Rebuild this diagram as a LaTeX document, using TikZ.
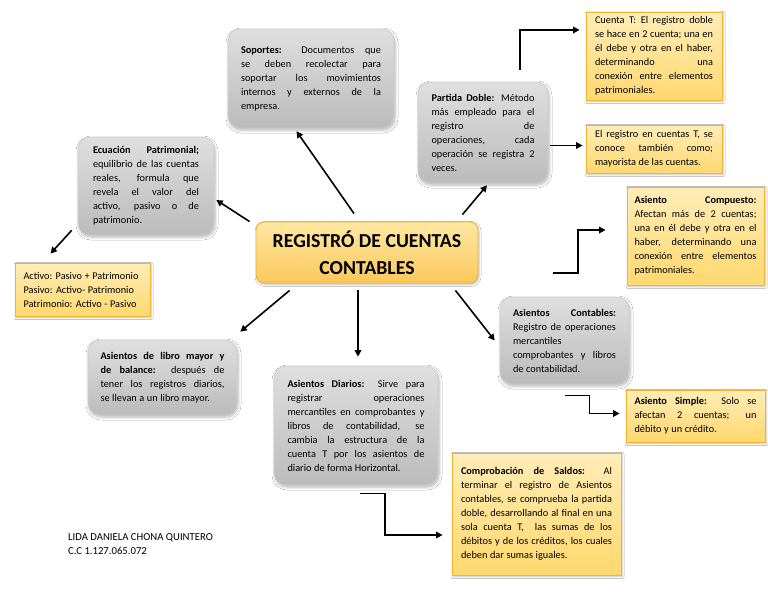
\documentclass[tikz,border=0pt]{standalone}
\usepackage{fontspec}
\setmainfont{Carlito}
\usetikzlibrary{arrows.meta,shadows.blur,calc}
\hbadness=10000 \hfuzz=20pt
\definecolor{gtop}{HTML}{DFDFDF}
\definecolor{gbot}{HTML}{BBBBBB}
\definecolor{gborder}{HTML}{CDCDCD}
\definecolor{ytop}{HTML}{FFEDB8}
\definecolor{ybot}{HTML}{FFD86E}
\definecolor{yborder}{HTML}{F2B532}
\definecolor{ttop}{HTML}{FFE7A2}
\definecolor{tbot}{HTML}{FBC95C}
\definecolor{tborder}{HTML}{EFB13A}
\newcommand{\tw}{100pt}
\newcommand{\jl}[1]{\hbox to\tw{\spaceskip=\fontdimen2\font plus 1fil\relax #1}}
\newcommand{\lastl}[1]{\hbox to\tw{\spaceskip=1.1\fontdimen2\font\relax #1\hfil}}
\newcommand{\blk}[1]{\vbox{#1}}
\begin{document}
\begin{tikzpicture}[x=1pt,y=-1pt,
  txt/.style={font=\fontsize{10.3}{14}\selectfont},
  tw/.style={execute at begin node={\def\tw{#1}}},
  graybox/.style={txt, draw=gborder, line width=0.6pt, rounded corners=12pt,
    top color=gtop, bottom color=gbot, inner sep=0pt,
    blur shadow={shadow blur steps=6, shadow xshift=1pt, shadow yshift=-2pt, shadow opacity=30, shadow blur radius=3pt}},
  yellowbox/.style={txt, draw=yborder, line width=0.8pt,
    top color=ytop, bottom color=ybot, inner sep=0pt,
    blur shadow={shadow blur steps=5, shadow xshift=1pt, shadow yshift=-1.5pt, shadow opacity=25, shadow blur radius=2pt}},
  titlebox/.style={draw=tborder, line width=0.9pt, rounded corners=8pt,
    top color=ttop, bottom color=tbot, inner sep=0pt, align=center,
    font=\fontsize{19.8}{27}\selectfont\bfseries,
    blur shadow={shadow blur steps=5, shadow xshift=1pt, shadow yshift=-1.5pt, shadow opacity=25, shadow blur radius=2pt}},
  arr/.style={-{Triangle[length=6.5pt,width=6.5pt]}, line width=1.6pt, black}
]
\useasboundingbox (0,0) rectangle (768,594);
\fill[white] (0,0) rectangle (768,594);

% central title
\node[titlebox, minimum width=222pt, minimum height=61pt] (title) at (367,252.5)
  {REGISTRÓ DE CUENTAS\\CONTABLES};

% gray boxes
\node[graybox, minimum width=166pt, minimum height=99pt, tw=140pt] (sop) at (311,78.5) {\blk{%
\jl{\textbf{Soportes:} Documentos que}%
\jl{se deben recolectar para}%
\jl{soportar los movimientos}%
\jl{internos y externos de la}%
\lastl{empresa.}}};

\node[graybox, minimum width=130pt, minimum height=101pt, tw=103pt] (pd) at (483,132.5) {\blk{%
\jl{\textbf{Partida Doble:} Método}%
\jl{más empleado para el}%
\jl{registro de}%
\jl{operaciones, cada}%
\jl{operación se registra 2}%
\lastl{veces.}}};

\node[graybox, minimum width=136pt, minimum height=98pt, tw=106pt] (ecu) at (146,186) {\blk{%
\jl{\textbf{Ecuación Patrimonial;}}%
\jl{equilibrio de las cuentas}%
\jl{reales, formula que}%
\jl{revela el valor del}%
\jl{activo, pasivo o de}%
\lastl{patrimonio.}}};

\node[graybox, minimum width=149pt, minimum height=75pt, tw=124pt] (lib) at (162.5,377.5) {\blk{%
\jl{\textbf{Asientos de libro mayor y}}%
\jl{\textbf{de balance:} después de}%
\jl{tener los registros diarios,}%
\lastl{se llevan a un libro mayor.}}};

\node[graybox, minimum width=164pt, minimum height=119pt, tw=137pt] (dia) at (356,425.5) {\blk{%
\jl{\textbf{Asientos Diarios:} Sirve para}%
\jl{registrar operaciones}%
\jl{mercantiles en comprobantes y}%
\jl{libros de contabilidad, se}%
\jl{cambia la estructura de la}%
\jl{cuenta T por los asientos de}%
\lastl{diario de forma Horizontal.}}};

\node[graybox, minimum width=129pt, minimum height=87pt, tw=103pt] (con) at (564.5,340.5) {\blk{%
\jl{\textbf{Asientos Contables:}}%
\jl{Registro de operaciones}%
\lastl{mercantiles}%
\jl{comprobantes y libros}%
\lastl{de contabilidad.}}};

% yellow boxes
\node[yellowbox, minimum width=136pt, minimum height=88pt, tw=118pt] (cta) at (654,56) {\blk{%
\jl{Cuenta T: El registro doble}%
\jl{se hace en 2 cuenta; una en}%
\jl{él debe y otra en el haber,}%
\jl{determinando una}%
\jl{conexión entre elementos}%
\lastl{patrimoniales.}}};

\node[yellowbox, minimum width=136pt, minimum height=48pt, tw=118pt] (reg) at (654,149) {\blk{%
\jl{El registro en cuentas T, se}%
\jl{conoce también como;}%
\lastl{mayorista de las cuentas.}}};

\node[yellowbox, minimum width=135pt, minimum height=53pt, tw=118pt] (act) at (82.5,289.5) {\blk{%
\lastl{Activo: Pasivo + Patrimonio}%
\lastl{Pasivo: Activo- Patrimonio}%
\lastl{Patrimonio: Activo - Pasivo}}};

\node[yellowbox, minimum width=137pt, minimum height=98pt, tw=122pt] (com) at (695.5,236) {\blk{%
\jl{\textbf{Asiento Compuesto:}}%
\jl{Afectan más de 2 cuentas;}%
\jl{una en él debe y otra en el}%
\jl{haber, determinando una}%
\jl{conexión entre elementos}%
\lastl{patrimoniales.}}};

\node[yellowbox, minimum width=139pt, minimum height=52pt, tw=122pt] (sim) at (695.5,416) {\blk{%
\jl{\textbf{Asiento Simple:} Solo se}%
\jl{afectan 2 cuentas; un}%
\lastl{débito y un crédito.}}};

\node[yellowbox, minimum width=169pt, minimum height=122pt, tw=151pt] (sal) at (536.5,514) {\blk{%
\jl{\textbf{Comprobación de Saldos:} Al}%
\jl{terminar el registro de Asientos}%
\jl{contables, se comprueba la partida}%
\jl{doble, desarrollando al final en una}%
\jl{sola cuenta T, \ las sumas de los}%
\jl{débitos y de los créditos, los cuales}%
\lastl{deben dar sumas iguales.}}};

% author
\node[font=\fontsize{10.7}{14}\selectfont, anchor=west, align=left, inner sep=0pt] (name) at (68,544)
  {LIDA DANIELA CHONA QUINTERO\\C.C 1.127.065.072};

% connectors
\draw[arr] ([xshift=-13pt,yshift=8pt]title.north) -- ([xshift=-14.5pt,yshift=-3pt]sop.south);
\draw[arr] ([xshift=-16pt,yshift=7pt]title.north east) -- ([xshift=4pt,yshift=-2pt]pd.south);
\draw[arr] ([xshift=-6pt]title.north west) -- ([xshift=2pt,yshift=-14pt]ecu.east);
\draw[arr] ([xshift=-6pt,yshift=5pt]ecu.south west) -- ([xshift=-32pt,yshift=9pt]act.north);
\draw[arr] ([xshift=34pt,yshift=-7pt]title.south west) -- ([xshift=3pt,yshift=8pt]lib.north east);
\draw[arr] ([xshift=-9pt,yshift=-7pt]title.south) -- ([xshift=2pt,yshift=9pt]dia.north);
\draw[arr] ([xshift=-23pt,yshift=-7pt]title.south east) -- ([xshift=-5pt]con.west);
\draw[arr] ([xshift=37pt,yshift=12pt]pd.north) |- ([xshift=-6pt,yshift=26pt]cta.west);
\draw[arr] ([xshift=2pt,yshift=-13pt]pd.east) -- ([xshift=-3pt,yshift=3.5pt]reg.west);
\draw[arr] ([xshift=-11.5pt,yshift=24pt]con.north) -- ++(25,0) |- ([xshift=-21pt,yshift=6pt]com.west);
\draw[arr] ([yshift=-11pt]con.south) -- ++(25,0) |- ([xshift=-6pt,yshift=2.5pt]sim.west);
\draw[arr] ([xshift=4pt,yshift=-8pt]dia.south) -- ++(25,0) |- ([xshift=-9pt,yshift=-21pt]sal.west);
\end{tikzpicture}
\end{document}
